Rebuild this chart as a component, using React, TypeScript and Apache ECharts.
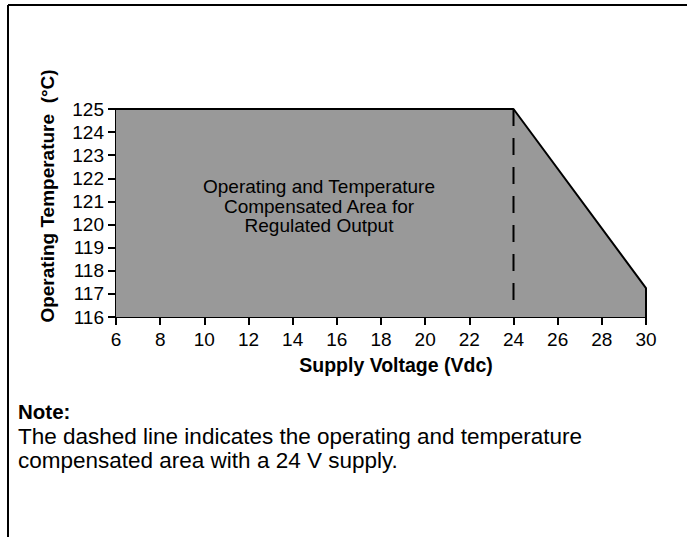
import React, { useEffect, useRef } from "react";
import * as echarts from "echarts";

const voltage = [6, 24, 30, 30];
const temperature = [125, 125, 117.25, 116];
const dashedVoltage = [24, 24];
const dashedTemperature = [125, 116.55];
const xTicks = { min: 6, max: 30, interval: 2 };
const yTicks = { min: 116, max: 125, interval: 1 };
const areaLabel = ["Operating and Temperature", "Compensated Area for", "Regulated Output"];
const xName = "Supply Voltage (Vdc)";
const yName = "Operating Temperature  (°C)";
const noteTitle = "Note:";
const noteLines = [
  "The dashed line indicates the operating and temperature",
  "compensated area with a 24 V supply.",
];

const FONT = "Liberation Sans, Arial, sans-serif";

export default function App() {
  const ref = useRef<HTMLDivElement>(null);
  useEffect(() => {
    if (!ref.current) return;
    const chart = echarts.init(ref.current, undefined, { renderer: "svg" });
    const option: any = {
      animation: false,
      backgroundColor: "#ffffff",
      grid: { left: 116, right: 41, top: 109, bottom: 220, containLabel: false },
      xAxis: {
        type: "value",
        min: xTicks.min,
        max: xTicks.max,
        interval: xTicks.interval,
        axisLine: { lineStyle: { color: "#000", width: 2 } },
        axisTick: { length: 8, lineStyle: { color: "#000", width: 2 } },
        axisLabel: { color: "#000", fontSize: 19, fontFamily: FONT, margin: 13 },
        splitLine: { show: false },
      },
      yAxis: {
        type: "value",
        min: yTicks.min,
        max: yTicks.max,
        interval: yTicks.interval,
        axisLine: { show: true, lineStyle: { color: "#000", width: 2 } },
        axisTick: { show: true, length: 8, lineStyle: { color: "#000", width: 2 } },
        axisLabel: { color: "#000", fontSize: 19, fontFamily: FONT, margin: 12 },
        splitLine: { show: false },
      },
      series: [
        {
          type: "line",
          data: voltage.map((v, i) => [v, temperature[i]]),
          symbol: "none",
          lineStyle: { color: "#000", width: 2 },
          areaStyle: { color: "#999999", opacity: 1, origin: "start" },
          z: 2,
        },
        {
          type: "line",
          data: dashedVoltage.map((v, i) => [v, dashedTemperature[i]]),
          symbol: "none",
          lineStyle: { color: "#000", width: 2, type: [17, 12] },
          z: 3,
        },
      ],
      graphic: [
        { type: "line", shape: { x1: 8, y1: 5, x2: 687, y2: 5 }, style: { stroke: "#000", lineWidth: 2 } },
        { type: "line", shape: { x1: 8, y1: 5, x2: 8, y2: 537 }, style: { stroke: "#000", lineWidth: 2 } },
        {
          type: "text",
          x: 319,
          y: 206,
          style: {
            text: areaLabel.join("\n"),
            align: "center",
            verticalAlign: "middle",
            fontSize: 19,
            lineHeight: 19.5,
            fontFamily: FONT,
            fill: "#000",
          },
          z: 10,
        },
        {
          type: "text",
          x: 396,
          y: 365,
          style: {
            text: xName,
            align: "center",
            verticalAlign: "middle",
            fontSize: 19.5,
            fontWeight: "bold",
            fontFamily: FONT,
            fill: "#000",
          },
        },
        {
          type: "text",
          x: 47,
          y: 196,
          rotation: Math.PI / 2,
          style: {
            text: yName,
            align: "center",
            verticalAlign: "middle",
            fontSize: 19,
            fontWeight: "bold",
            fontFamily: FONT,
            fill: "#000",
          },
        },
        {
          type: "text",
          x: 18,
          y: 411,
          style: {
            text: noteTitle,
            align: "left",
            verticalAlign: "middle",
            fontSize: 20.5,
            fontWeight: "bold",
            fontFamily: FONT,
            fill: "#000",
          },
        },
        {
          type: "text",
          x: 18,
          y: 448,
          style: {
            text: noteLines.join("\n"),
            align: "left",
            verticalAlign: "middle",
            fontSize: 22.5,
            lineHeight: 24,
            fontFamily: FONT,
            fill: "#000",
          },
        },
      ],
    };
    chart.setOption(option);
    return () => chart.dispose();
  }, []);
  return (
    <div
      ref={ref}
      style={{ position: "absolute", left: 0, top: 0, width: 687, height: 537 }}
    />
  );
}
